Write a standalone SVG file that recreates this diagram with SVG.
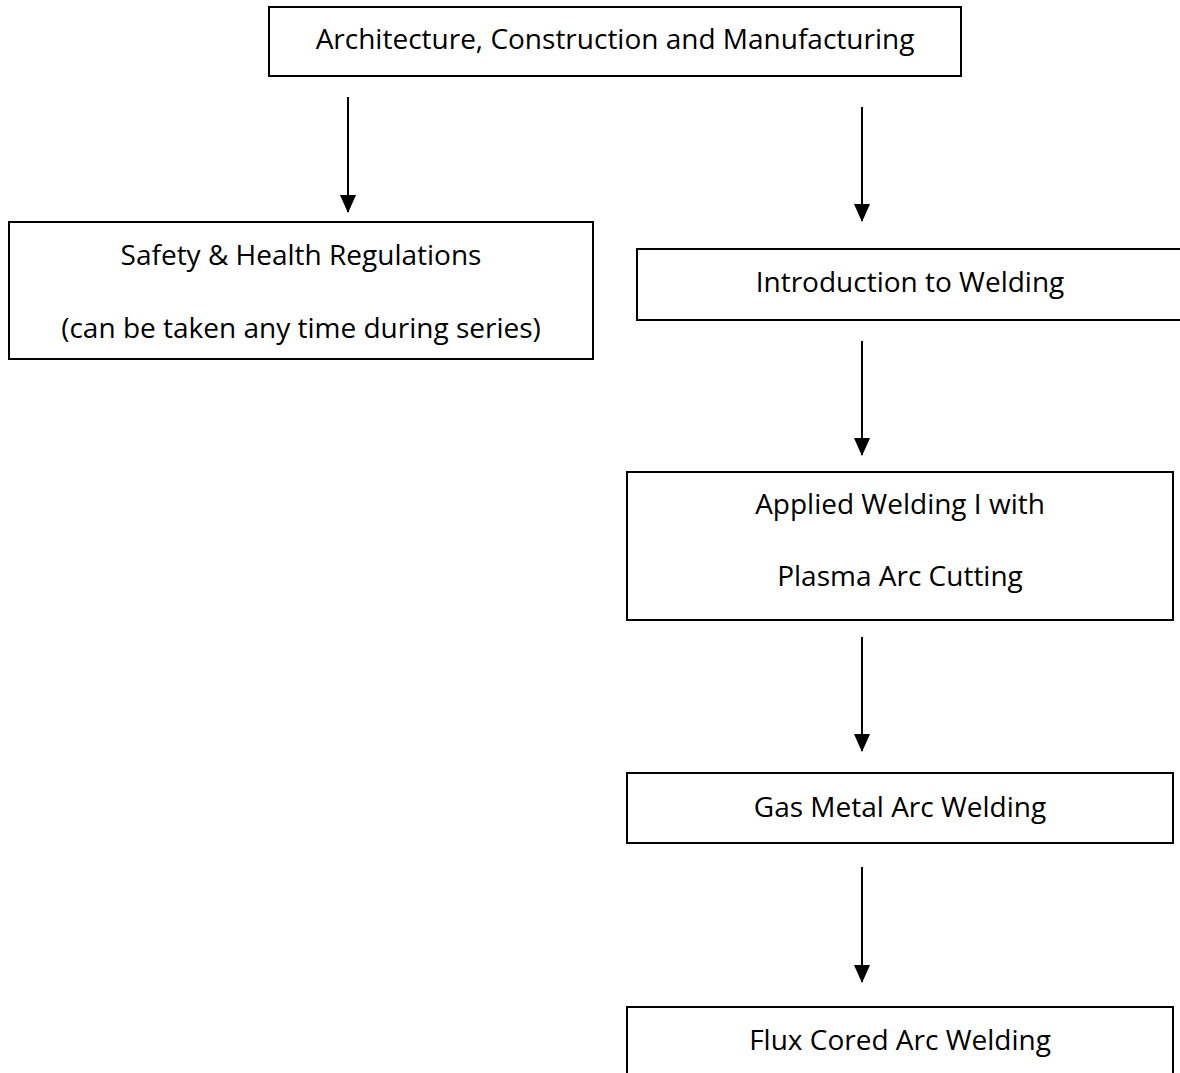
<svg xmlns="http://www.w3.org/2000/svg" width="1180" height="1073" viewBox="0 0 1180 1073">
<style>
.box{fill:#fff;stroke:#000;stroke-width:2}
.t{font-family:"Open Sans","Liberation Sans",sans-serif;font-size:28px;fill:#000;text-anchor:middle;dominant-baseline:central}
.c{stroke:#000;stroke-width:2;fill:none;marker-end:url(#ah)}
</style>
<defs>
<marker id="ah" markerUnits="userSpaceOnUse" markerWidth="18" markerHeight="16" refX="17" refY="8" orient="auto" viewBox="0 0 18 16">
<path d="M0,0 L18,8 L0,16 Z" fill="#000"/>
</marker>
</defs>
<rect width="1180" height="1073" fill="#fff"/>
<g id="connectors">
<line class="c" x1="348" y1="97" x2="348" y2="212"/>
<line class="c" x1="862" y1="107" x2="862" y2="221"/>
<line class="c" x1="862" y1="341" x2="862" y2="455"/>
<line class="c" x1="862" y1="637" x2="862" y2="751"/>
<line class="c" x1="862" y1="867" x2="862" y2="982"/>
</g>
<g id="n-acm">
<rect class="box" x="269" y="7" width="692" height="69"/>
<text class="t" x="615" y="38">Architecture, Construction and Manufacturing</text>
</g>
<g id="n-safety">
<rect class="box" x="9" y="222" width="584" height="137"/>
<text class="t" x="301" y="254">Safety &amp; Health Regulations</text>
<text class="t" x="301" y="327">(can be taken any time during series)</text>
</g>
<g id="n-intro">
<rect class="box" x="637" y="249" width="560" height="71"/>
<text class="t" x="910" y="281">Introduction to Welding</text>
</g>
<g id="n-applied">
<rect class="box" x="627" y="472" width="546" height="148"/>
<text class="t" x="900" y="503">Applied Welding I with</text>
<text class="t" x="900" y="575">Plasma Arc Cutting</text>
</g>
<g id="n-gmaw">
<rect class="box" x="627" y="773" width="546" height="70"/>
<text class="t" x="900" y="806">Gas Metal Arc Welding</text>
</g>
<g id="n-fcaw">
<rect class="box" x="627" y="1007" width="546" height="100"/>
<text class="t" x="900" y="1039">Flux Cored Arc Welding</text>
</g>
</svg>
